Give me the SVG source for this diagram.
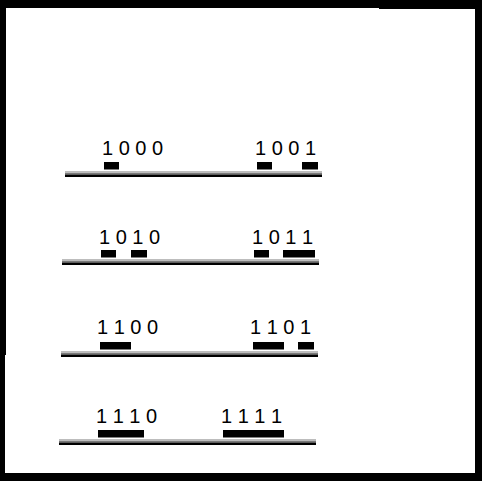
<svg xmlns="http://www.w3.org/2000/svg" width="482" height="481" viewBox="0 0 482 481">
<style>
.t{font-family:"Liberation Sans","DejaVu Sans",sans-serif;font-size:20px;fill:#000}
.bar{fill:#000}
.l1{fill:#bdbdbd}
.l2{fill:#7a7a7a}
.l3{fill:#000}
</style>
<rect x="0" y="0" width="482" height="481" fill="#000"/>
<rect x="6" y="8" width="469" height="465" fill="#fff"/>
<rect x="5" y="355" width="1" height="118" fill="#fff"/>
<rect x="379" y="8" width="96" height="1" fill="#000"/>
<g id="connectors">
<g id="line1"><rect class="l1" x="65" y="171" width="257" height="2"/><rect class="l2" x="65" y="173" width="257" height="1.5"/><rect class="l3" x="65" y="174.5" width="257" height="2.5"/></g>
<g id="line2"><rect class="l1" x="62" y="259" width="257" height="2"/><rect class="l2" x="62" y="261" width="257" height="1.5"/><rect class="l3" x="62" y="262.5" width="257" height="2.5"/></g>
<g id="line3"><rect class="l1" x="61" y="351" width="257" height="2"/><rect class="l2" x="61" y="353" width="257" height="1.5"/><rect class="l3" x="61" y="354.5" width="257" height="2.5"/></g>
<g id="line4"><rect class="l1" x="59" y="439" width="257" height="2"/><rect class="l2" x="59" y="441" width="257" height="1.5"/><rect class="l3" x="59" y="442.5" width="257" height="2.5"/></g>
</g>
<g id="n1000"><text class="t" x="102" y="155">1 0 0 0</text><rect class="bar" x="104" y="162" width="15" height="7.5"/></g>
<g id="n1001"><text class="t" x="255" y="155">1 0 0 1</text><rect class="bar" x="257" y="162" width="15" height="7.5"/><rect class="bar" x="302" y="162" width="16" height="7.5"/></g>
<g id="n1010"><text class="t" x="99" y="244">1 0 1 0</text><rect class="bar" x="101" y="250" width="15" height="7.5"/><rect class="bar" x="131" y="250" width="16" height="7.5"/></g>
<g id="n1011"><text class="t" x="252" y="244">1 0 1 1</text><rect class="bar" x="254" y="250" width="15" height="7.5"/><rect class="bar" x="283" y="250" width="32" height="7.5"/></g>
<g id="n1100"><text class="t" x="97" y="334">1 1 0 0</text><rect class="bar" x="100" y="342" width="31" height="7.5"/></g>
<g id="n1101"><text class="t" x="250" y="334">1 1 0 1</text><rect class="bar" x="253" y="342" width="31" height="7.5"/><rect class="bar" x="298" y="342" width="16" height="7.5"/></g>
<g id="n1110"><text class="t" x="96" y="423">1 1 1 0</text><rect class="bar" x="98" y="430" width="46" height="7.5"/></g>
<g id="n1111"><text class="t" x="221" y="423">1 1 1 1</text><rect class="bar" x="223" y="430" width="61" height="7.5"/></g>
</svg>
